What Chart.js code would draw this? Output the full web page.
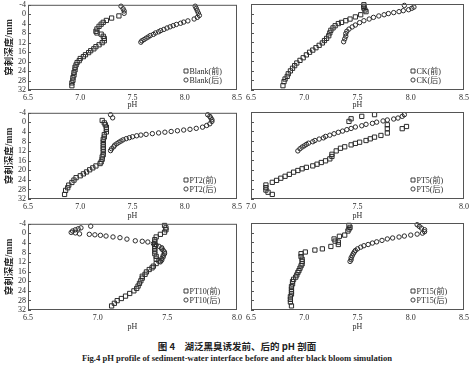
<!DOCTYPE html>
<html>
<head>
<meta charset="utf-8">
<script src="https://cdn.jsdelivr.net/npm/chart.js@4/dist/chart.umd.min.js"></script>
<style>
  body { margin: 0; background: #fff; }
  #wrap { position: relative; width: 474px; height: 367px; overflow: hidden; background: #fff; }
  #wrap canvas { position: absolute; }
  .cap { position: absolute; left: 0; width: 474px; text-align: center; white-space: nowrap;
         font-family: "Liberation Serif", "Noto Sans CJK SC", serif; font-weight: bold; color: #222; }
</style>
</head>
<body>
<div id="wrap">
  <canvas id="blank"></canvas>
  <canvas id="ck"></canvas>
  <canvas id="pt2"></canvas>
  <canvas id="pt5"></canvas>
  <canvas id="pt10"></canvas>
  <canvas id="pt15"></canvas>
  <div class="cap" style="top:340px;font-size:9.5px;line-height:12px;font-family:'Noto Sans CJK SC',sans-serif;">图 4　湖泛黑臭诱发前、后的 pH 剖面</div>
  <div class="cap" style="top:353px;font-size:8.6px;line-height:11px;">Fig.4 pH profile of sediment-water interface before and after black bloom simulation</div>
</div>
<script>
// depth axis (mm) and pH ticks
const depthTicks = [-4, 0, 4, 8, 12, 16, 20, 24, 28, 32];
const yTitle = '穿刺深度/mm';
const xTitle = 'pH';

// Blank
const blankBeforePH = [7.37,7.30,7.25,7.22,7.20,7.18,7.16,7.15,7.16,7.20,7.22,7.23,7.23,7.21,7.18,7.15,7.13,7.10,7.08,7.05,7.03,7.00,6.99,6.97,6.96,6.95,6.95,6.94,6.94,6.93,6.93,6.92,6.92];
const blankBeforeDepth = [0.7,1.6,2.6,3.4,4.2,5.1,6.2,7.2,7.9,8.4,9.3,10.2,11.2,12.0,12.9,13.7,14.6,15.4,16.2,17.1,17.9,18.7,19.6,20.4,21.4,22.4,23.5,24.6,25.7,26.8,27.9,29.0,30.2];
const blankAfterPH = [7.39,7.41,7.42,7.42,8.10,8.11,8.12,8.13,8.14,8.12,8.09,8.03,7.99,7.96,7.92,7.89,7.86,7.83,7.80,7.77,7.75,7.72,7.70,7.67,7.65,7.63,7.61,7.59,7.58];
const blankAfterDepth = [-3.4,-2.3,-1.4,-0.4,-3.4,-2.5,-1.5,-0.5,0.5,1.3,2.0,2.8,3.3,3.8,4.3,4.8,5.3,5.8,6.4,6.9,7.4,7.9,8.5,9.0,9.6,10.1,10.7,11.2,11.8];

// CK
const ckBeforePH = [7.56,7.56,7.56,7.57,7.58,7.53,7.48,7.43,7.39,7.35,7.32,7.29,7.27,7.25,7.24,7.23,7.21,7.19,7.17,7.14,7.11,7.08,7.05,7.02,6.99,6.96,6.93,6.91,6.89,6.87,6.85,6.84,6.82,6.81,6.80];
const ckBeforeDepth = [-3.7,-3.0,-2.3,-1.5,-0.8,0.5,1.4,2.3,3.0,3.7,4.2,5.1,6.0,7.0,8.1,9.3,10.4,11.3,12.3,13.3,14.3,15.3,16.2,17.3,18.5,19.6,20.7,21.8,22.9,24.0,25.2,26.3,27.4,28.5,30.2];
const ckAfterPH = [7.94,8.03,8.01,7.98,7.93,7.89,7.84,7.79,7.75,7.70,7.65,7.61,7.56,7.52,7.48,7.45,7.42,7.40,7.39,7.39,7.38,7.37];
const ckAfterDepth = [-3.4,-2.7,-2.2,-1.6,-1.2,-0.8,-0.4,0.0,0.5,1.0,1.6,2.3,3.0,3.8,4.8,5.6,6.5,7.4,8.4,9.5,10.6,11.8];

// PT2
const pt2BeforePH = [7.21,7.23,7.24,7.25,7.25,7.25,7.23,7.23,7.22,7.22,7.22,7.22,7.22,7.22,7.22,7.21,7.21,7.20,7.19,7.15,7.12,7.09,7.06,7.03,7.00,6.96,6.94,6.92,6.89,6.88,6.86,6.85];
const pt2BeforeDepth = [-0.8,0.2,1.0,2.0,2.9,4.0,5.1,6.1,7.1,8.2,9.3,10.3,11.2,12.3,13.5,14.4,15.4,16.5,17.2,18.2,19.0,19.8,20.7,21.5,22.3,23.1,24.1,25.1,26.2,27.3,28.4,30.1];
const pt2AfterPH = [7.29,7.31,8.22,8.24,8.25,8.26,8.26,8.24,8.21,8.17,8.11,8.05,7.99,7.93,7.87,7.81,7.75,7.69,7.63,7.58,7.54,7.50,7.47,7.44,7.41,7.39,7.37,7.35,7.33,7.32,7.30,7.29];
const pt2AfterDepth = [-3.2,-1.9,-3.2,-2.5,-1.8,-1.1,-0.4,0.6,1.3,2.0,2.5,2.9,3.2,3.5,3.8,4.1,4.4,4.7,5.0,5.3,5.6,6.0,6.4,6.8,7.3,7.8,8.3,8.9,9.5,10.2,11.0,11.8];

// PT5
const pt5BeforePH = [7.58,7.52,7.47,7.46,7.73,7.71,7.64,7.64,7.64,7.61,7.58,7.56,7.54,7.51,7.49,7.47,7.44,7.42,7.40,7.38,7.38,7.37,7.35,7.33,7.31,7.29,7.26,7.24,7.22,7.20,7.18,7.16,7.14,7.12,7.10,7.07,7.07,7.07,7.08,7.10];
const pt5BeforeDepth = [-2.9,-2.2,-1.2,-0.1,2.0,2.9,1.3,2.9,4.7,5.7,6.4,7.1,7.8,8.5,9.0,9.6,10.4,11.0,12.1,13.5,14.4,15.4,16.2,16.9,17.6,18.3,18.9,19.5,20.2,20.9,21.8,22.6,23.4,24.3,25.1,26.2,27.3,28.3,29.2,30.1];
const pt5AfterPH = [7.22,7.23,7.24,7.25,7.26,7.27,7.29,7.30,7.32,7.34,7.35,7.37,7.39,7.41,7.43,7.45,7.47,7.49,7.52,7.54,7.57,7.59,7.62,7.64,7.67,7.69,7.71,7.72];
const pt5AfterDepth = [12.1,11.2,10.5,10.0,9.4,8.9,8.3,7.8,7.2,6.7,6.1,5.6,5.0,4.4,3.9,3.3,2.8,2.2,1.7,1.1,0.7,0.2,-0.3,-0.7,-1.1,-1.5,-2.2,-2.9];

// PT10
const pt10BeforePH = [7.48,7.49,7.49,7.48,7.45,7.42,7.41,7.41,7.41,7.41,7.41,7.41,7.41,7.42,7.42,7.44,7.42,7.40,7.39,7.37,7.35,7.34,7.32,7.32,7.31,7.30,7.29,7.28,7.26,7.23,7.20,7.17,7.14,7.12,7.10];
const pt10BeforeDepth = [-3.3,-2.3,-1.5,-0.5,0.4,1.5,2.6,3.6,4.6,5.4,6.4,7.4,8.5,9.6,10.7,11.5,12.6,13.7,14.4,15.1,16.1,17.1,17.9,18.7,19.8,20.9,22.0,23.0,24.0,25.1,26.2,27.2,28.1,29.2,30.3];
const pt10AfterPH = [6.95,6.88,6.86,6.84,6.82,6.81,6.84,6.87,6.94,6.98,7.02,7.06,7.11,7.16,7.21,7.27,7.32,7.36,7.40,7.42,7.44,7.46,7.46,7.47,7.48,7.48,7.47,7.47,7.46,7.46,7.45];
const pt10AfterDepth = [-3.0,-2.3,-1.9,-1.5,-1.0,-0.4,-0.2,0.2,0.4,0.6,0.8,1.1,1.5,1.8,2.4,3.1,3.3,3.6,4.3,4.9,5.4,6.0,6.5,7.1,7.8,8.5,9.2,9.9,10.5,11.2,11.9];

// PT15
const pt15BeforePH = [7.42,7.43,7.42,7.41,7.38,7.33,7.28,7.29,7.32,7.32,7.25,7.17,7.10,7.01,6.97,6.97,6.98,6.98,6.98,6.97,6.96,6.95,6.94,6.93,6.92,6.90,6.89,6.89,6.88,6.88,6.88,6.88,6.87,6.87,6.87,6.88];
const pt15BeforeDepth = [-3.0,-2.2,-1.5,-0.7,1.0,1.5,2.6,3.5,3.9,4.9,5.7,6.7,7.2,8.0,8.7,9.9,11.0,11.9,12.9,13.7,14.7,15.7,16.5,17.5,18.4,19.3,20.2,21.2,22.3,23.4,24.4,25.4,26.5,27.6,28.7,30.3];
const pt15AfterPH = [8.06,8.08,8.10,8.13,8.13,8.11,8.06,8.00,7.94,7.89,7.83,7.78,7.73,7.68,7.64,7.60,7.56,7.53,7.50,7.48,7.47,7.46,7.45,7.44,7.44,7.43];
const pt15AfterDepth = [-3.3,-2.6,-1.9,-1.2,-0.4,0.2,0.6,1.0,1.4,1.8,2.2,2.6,3.2,3.8,4.3,4.9,5.4,6.0,6.7,7.4,8.0,8.7,9.6,10.4,11.2,11.9];

const FONT = '"Liberation Serif", "Noto Sans CJK SC", serif';
const INK = '#2b2b2b';
Chart.defaults.font.family = FONT;
Chart.defaults.font.size = 8;
Chart.defaults.color = INK;

// frame, inward ticks and the small legend inside the plot
const framePlugin = {
  id: 'frame',
  afterDatasetsDraw(chart) {
    const ctx = chart.ctx, a = chart.chartArea, ys = chart.scales.y;
    ctx.save();
    ctx.strokeStyle = '#555';
    ctx.lineWidth = 1;
    ctx.strokeRect(a.left + 0.5, a.top + 0.5, a.right - a.left - 1, a.bottom - a.top - 1);
    ctx.beginPath();
    ys.ticks.forEach(t => {
      const py = Math.round(ys.getPixelForValue(t.value)) + 0.5;
      ctx.moveTo(a.left, py);
      ctx.lineTo(a.left + 3, py);
    });
    ctx.stroke();

    ctx.font = '8px ' + FONT;
    ctx.textBaseline = 'middle';
    ctx.textAlign = 'left';
    chart.data.datasets.forEach((ds, i) => {
      const x = a.right - 51, y = a.bottom - 19 + i * 9;
      ctx.strokeStyle = INK;
      ctx.lineWidth = 0.9;
      ctx.beginPath();
      if (ds.pointStyle === 'rect') ctx.rect(x - 2, y - 2, 4, 4);
      else ctx.arc(x, y, 2.1, 0, Math.PI * 2);
      ctx.stroke();
      ctx.fillStyle = INK;
      ctx.fillText(ds.label, x + 3.5, y + 0.5);
    });
    ctx.restore();
  }
};

function pts(xs, ys) {
  return xs.map((x, i) => ({ x: x, y: ys[i] }));
}

function panel(id, area, xMin, xMax, showY, xH, name, bx, by, ax, ay) {
  const yW = showY ? 28 : 10;
  const cv = document.getElementById(id);
  cv.width = area[2] - area[0] + yW + 10;
  cv.height = area[3] - area[1] + 6 + xH + 2;
  cv.style.left = (area[0] - yW) + 'px';
  cv.style.top = (area[1] - 6) + 'px';

  new Chart(cv, {
    type: 'scatter',
    data: {
      datasets: [
        { label: name + '(前)', data: pts(bx, by), pointStyle: 'rect', pointRadius: 3,
          borderColor: INK, backgroundColor: 'rgba(0,0,0,0)', borderWidth: 1, clip: false },
        { label: name + '(后)', data: pts(ax, ay), pointStyle: 'circle', pointRadius: 2.2,
          borderColor: INK, backgroundColor: 'rgba(0,0,0,0)', borderWidth: 1, clip: false }
      ]
    },
    options: {
      responsive: false,
      animation: false,
      events: [],
      layout: { padding: { top: 6, right: 10, bottom: 2, left: 0 } },
      plugins: { legend: { display: false }, tooltip: { enabled: false } },
      scales: {
        x: {
          type: 'linear', min: xMin, max: xMax,
          grid: { display: false, drawTicks: false },
          border: { display: false },
          ticks: { stepSize: 0.5, padding: 3, autoSkip: false, maxRotation: 0,
                   callback: v => v.toFixed(1) },
          title: { display: true, text: xTitle, padding: 0, font: { size: 8 } },
          afterFit: s => { s.height = xH; }
        },
        y: {
          type: 'linear', reverse: true, min: depthTicks[0], max: depthTicks[depthTicks.length - 1],
          grid: { display: false, drawTicks: false },
          border: { display: false },
          afterBuildTicks: s => { s.ticks = depthTicks.map(v => ({ value: v })); },
          ticks: { display: showY, padding: 2, autoSkip: false },
          title: { display: showY, text: yTitle, padding: { top: 4, bottom: 0 },
                   font: { size: 9.5, weight: 'bold' } },
          afterFit: s => { s.width = yW; }
        }
      }
    },
    plugins: [framePlugin]
  });
}

const L = [28, 237], R = [251, 464];
const rows = [[4, 90, 20], [112, 199, 22], [223, 310, 22]];

panel('blank', [L[0], rows[0][0], L[1], rows[0][1]], 6.5, 8.5, true, rows[0][2], 'Blank',
      blankBeforePH, blankBeforeDepth, blankAfterPH, blankAfterDepth);
panel('ck', [R[0], rows[0][0], R[1], rows[0][1]], 6.5, 8.5, false, rows[0][2], 'CK',
      ckBeforePH, ckBeforeDepth, ckAfterPH, ckAfterDepth);
panel('pt2', [L[0], rows[1][0], L[1], rows[1][1]], 6.5, 8.5, true, rows[1][2], 'PT2',
      pt2BeforePH, pt2BeforeDepth, pt2AfterPH, pt2AfterDepth);
panel('pt5', [R[0], rows[1][0], R[1], rows[1][1]], 7.0, 8.0, false, rows[1][2], 'PT5',
      pt5BeforePH, pt5BeforeDepth, pt5AfterPH, pt5AfterDepth);
panel('pt10', [L[0], rows[2][0], L[1], rows[2][1]], 6.5, 8.0, true, rows[2][2], 'PT10',
      pt10BeforePH, pt10BeforeDepth, pt10AfterPH, pt10AfterDepth);
panel('pt15', [R[0], rows[2][0], R[1], rows[2][1]], 6.5, 8.5, false, rows[2][2], 'PT15',
      pt15BeforePH, pt15BeforeDepth, pt15AfterPH, pt15AfterDepth);
</script>
</body>
</html>
